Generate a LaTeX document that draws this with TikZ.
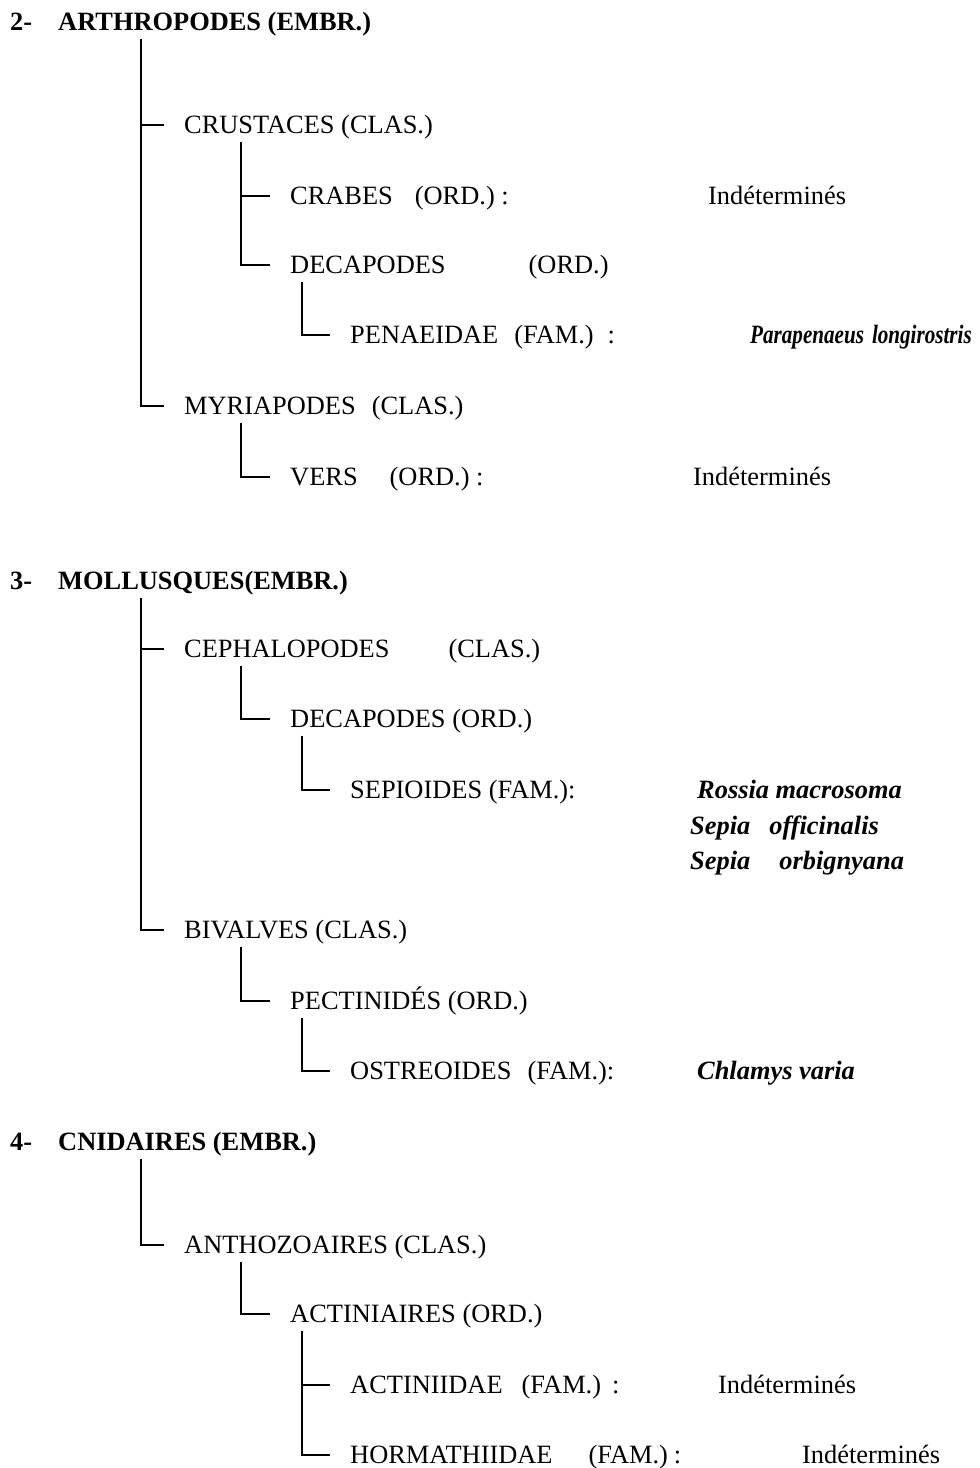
\documentclass[tikz,border=0pt]{standalone}
\usepackage{fontspec}
\setmainfont{Liberation Serif}
\usetikzlibrary{calc}
\tikzset{
  lab/.style={anchor=west, inner xsep=0pt, inner ysep=8pt, text height=17pt, text depth=0pt,
              font=\fontsize{26.4}{31}\selectfont},
  hd/.style={lab, font=\fontsize{26.4}{31}\selectfont\bfseries},
  spc/.style={lab, font=\fontsize{26.4}{31}\selectfont\bfseries\itshape},
  br/.style={line width=1.7pt, shorten >=20pt}
}
\begin{document}
\begin{tikzpicture}[x=1pt,y=-1pt]
\fill[white] (0,0) rectangle (980,1468);
\useasboundingbox (0,0) rectangle (980,1468);

% ---------- 2- ARTHROPODES ----------
\node[hd] (n2) at (10,22) {2-};
\node[hd] (h2) at (58,22) {ARTHROPODES (EMBR.)};
\node[lab] (crus) at (184,125) {CRUSTACES (CLAS.)};
\node[lab] (crab) at (290,196) {CRABES\hspace{22pt}(ORD.)~:};
\node[lab] (ind1) at (708,196) {Indéterminés};
\node[lab] (deca) at (290,265) {DECAPODES\hspace{83pt}(ORD.)};
\node[lab] (pena) at (350,335) {PENAEIDAE\hspace{16pt}(FAM.)\hspace{14pt}:};
\node[spc] (para) at (750,335) {\scalebox{0.8}[1]{Parapenaeus\hspace{10pt}longirostris}};
\node[lab] (myri) at (184,406) {MYRIAPODES\hspace{16pt}(CLAS.)};
\node[lab] (vers) at (290,477) {VERS\hspace{32pt}(ORD.)~:};
\node[lab] (ind2) at (693,477) {Indéterminés};

\draw[br] (141,0 |- h2.south) |- (myri.west);
\draw[br] (141,0 |- crus.west) -- (crus.west);
\draw[br] (241,0 |- crus.south) |- (deca.west);
\draw[br] (241,0 |- crab.west) -- (crab.west);
\draw[br] (302,0 |- deca.south) |- (pena.west);
\draw[br] (241,0 |- myri.south) |- (vers.west);

% ---------- 3- MOLLUSQUES ----------
\node[hd] (n3) at (10,581) {3-};
\node[hd] (h3) at (58,581) {MOLLUSQUES(EMBR.)};
\node[lab] (ceph) at (184,649) {CEPHALOPODES\hspace{59pt}(CLAS.)};
\node[lab] (deca2) at (290,719) {DECAPODES (ORD.)};
\node[lab] (sepi) at (350,790) {SEPIOIDES (FAM.):};
\node[spc] (ross) at (697,790) {Rossia macrosoma};
\node[spc] (offi) at (690,826) {Sepia\hspace{19pt}officinalis};
\node[spc] (orbi) at (690,861) {Sepia\hspace{29pt}orbignyana};
\node[lab] (biva) at (184,930) {BIVALVES (CLAS.)};
\node[lab] (pect) at (290,1001) {PECTINIDÉS (ORD.)};
\node[lab] (ostr) at (350,1071) {OSTREOIDES\hspace{16pt}(FAM.):};
\node[spc] (chla) at (697,1071) {Chlamys varia};

\draw[br] (141,0 |- h3.south) |- (biva.west);
\draw[br] (141,0 |- ceph.west) -- (ceph.west);
\draw[br] (241,0 |- ceph.south) |- (deca2.west);
\draw[br] (302,0 |- deca2.south) |- (sepi.west);
\draw[br] (241,0 |- biva.south) |- (pect.west);
\draw[br] (302,0 |- pect.south) |- (ostr.west);

% ---------- 4- CNIDAIRES ----------
\node[hd] (n4) at (10,1142) {4-};
\node[hd] (h4) at (58,1142) {CNIDAIRES (EMBR.)};
\node[lab] (anth) at (184,1245) {ANTHOZOAIRES (CLAS.)};
\node[lab] (acti) at (290,1314) {ACTINIAIRES (ORD.)};
\node[lab] (actd) at (350,1385) {ACTINIIDAE\hspace{19pt}(FAM.)\hspace{11pt}:};
\node[lab] (ind3) at (718,1385) {Indéterminés};
\node[lab] (horm) at (350,1455) {HORMATHIIDAE\hspace{36pt}(FAM.)\hspace{6pt}:};
\node[lab] (ind4) at (802,1455) {Indéterminés};

\draw[br] (141,0 |- h4.south) |- (anth.west);
\draw[br] (241,0 |- anth.south) |- (acti.west);
\draw[br] (302,0 |- acti.south) |- (horm.west);
\draw[br] (302,0 |- actd.west) -- (actd.west);
\end{tikzpicture}
\end{document}
